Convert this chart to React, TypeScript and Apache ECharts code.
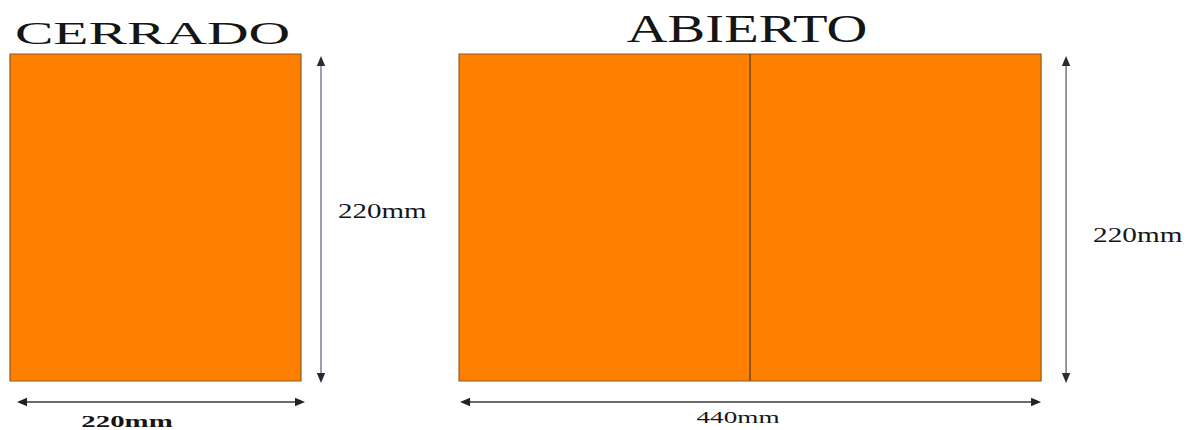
import React, { useEffect, useRef } from "react";
import * as echarts from "echarts";

// ---- data ----
const panelNames = ["CERRADO", "ABIERTO"];
const panelWidthMm = [220, 440];
const panelHeightMm = [220, 220];
const panelSections = [1, 2];
const widthLabels = ["220mm", "440mm"];
const heightLabels = ["220mm", "220mm"];

// ---- layout (mm along the hidden axes) ----
const panelStartMm = [0, 339.5];
const X_MAX_MM = 890;
const Y_MAX_MM = 220;
const PX_PER_MM_X = 291 / 220;
const PLOT_HEIGHT_PX = 327;

// ---- styles per panel ----
const titleSize = [32, 39];
const titleScaleX = [1.8, 1.45];
const titleCenterY = [33, 29];
const heightLabelSize = [20, 22];
const heightLabelScaleX = [1.45, 1.33];
const heightLabelOffsetX = [17, 27];
const heightLabelDy = [-6, 17];
const vArrowOffsetX = [20, 25];
const vArrowColor = ["#6f6684", "#5e5e5e"];
const hArrowInset = [[7, 4], [1, 0]];
const widthLabelSize = [17, 17];
const widthLabelBold = [true, false];
const widthLabelScaleX = [1.7, 1.6];
const widthLabelCenterX = [127, 738];
const widthLabelCenterY = [421, 417];

const FILL = "#FF8000";
const EDGE = "#8a5a22";
const INK = "#151515";

function arrowHead(x: number, y: number, dir: string, color: string) {
  const L = 10;
  const W = 4.2;
  let pts: number[][] = [];
  if (dir === "up") pts = [[x, y], [x - W, y + L], [x + W, y + L]];
  if (dir === "down") pts = [[x, y], [x - W, y - L], [x + W, y - L]];
  if (dir === "left") pts = [[x, y], [x + L, y - W], [x + L, y + W]];
  if (dir === "right") pts = [[x, y], [x - L, y - W], [x - L, y + W]];
  return { type: "polygon", shape: { points: pts }, style: { fill: color } };
}

export default function App() {
  const ref = useRef<HTMLDivElement>(null);
  useEffect(() => {
    if (!ref.current) return;
    const chart = echarts.init(ref.current, undefined, { renderer: "svg" });
    const data = panelNames.map((_, i) => [
      i,
      panelStartMm[i],
      panelWidthMm[i],
      panelHeightMm[i],
      panelSections[i],
    ]);
    const renderItem = (params: any, api: any) => {
      const i = api.value(0);
      const x0 = api.value(1);
      const w = api.value(2);
      const h = api.value(3);
      const sections = api.value(4);
      const [left, bottom] = api.coord([x0, 0]);
      const [right, top] = api.coord([x0 + w, h]);
      const children: any[] = [];
      children.push({
        type: "rect",
        shape: { x: left, y: top, width: right - left, height: bottom - top },
        style: { fill: FILL, stroke: EDGE, lineWidth: 1.2 },
      });
      for (let k = 1; k < sections; k++) {
        const xd = left + ((right - left) * k) / sections;
        children.push({
          type: "line",
          shape: { x1: xd, y1: top, x2: xd, y2: bottom },
          style: { stroke: "#7a4812", lineWidth: 1.6 },
        });
      }
      // title
      children.push({
        type: "text",
        x: (left + right) / 2 - 3,
        y: titleCenterY[i],
        scaleX: titleScaleX[i],
        style: {
          text: panelNames[i],
          fontFamily: "Liberation Serif",
          fontSize: titleSize[i],
          fill: INK,
          align: "center",
          verticalAlign: "middle",
        },
      });
      // vertical arrow
      const vx = right + vArrowOffsetX[i];
      const vy1 = top + 2;
      const vy2 = bottom + 2;
      const vc = vArrowColor[i];
      children.push({
        type: "line",
        shape: { x1: vx, y1: vy1 + 8, x2: vx, y2: vy2 - 8 },
        style: { stroke: vc, lineWidth: 1.3 },
      });
      children.push(arrowHead(vx, vy1, "up", "#2a2a33"));
      children.push(arrowHead(vx, vy2, "down", "#2a2a33"));
      children.push({
        type: "text",
        x: vx + heightLabelOffsetX[i],
        y: (top + bottom) / 2 + heightLabelDy[i],
        scaleX: heightLabelScaleX[i],
        style: {
          text: heightLabels[i],
          fontFamily: "Liberation Serif",
          fontSize: heightLabelSize[i],
          fill: INK,
          align: "left",
          verticalAlign: "middle",
        },
      });
      // horizontal arrow
      const hy = bottom + 21;
      const hx1 = left + hArrowInset[i][0];
      const hx2 = right + hArrowInset[i][1];
      children.push({
        type: "line",
        shape: { x1: hx1 + 8, y1: hy, x2: hx2 - 8, y2: hy },
        style: { stroke: "#3a3a3a", lineWidth: 1.6 },
      });
      children.push(arrowHead(hx1, hy, "left", "#222"));
      children.push(arrowHead(hx2, hy, "right", "#222"));
      children.push({
        type: "text",
        x: widthLabelCenterX[i],
        y: widthLabelCenterY[i],
        scaleX: widthLabelScaleX[i],
        style: {
          text: widthLabels[i],
          fontFamily: "Liberation Serif",
          fontSize: widthLabelSize[i],
          fontWeight: widthLabelBold[i] ? "bold" : "normal",
          fill: INK,
          align: "center",
          verticalAlign: "middle",
        },
      });
      return { type: "group", children };
    };
    chart.setOption({
      animation: false,
      backgroundColor: "#ffffff",
      grid: {
        left: 10,
        top: 54,
        width: X_MAX_MM * PX_PER_MM_X,
        height: PLOT_HEIGHT_PX,
      },
      xAxis: { type: "value", min: 0, max: X_MAX_MM, show: false },
      yAxis: { type: "value", min: 0, max: Y_MAX_MM, show: false },
      series: [
        {
          type: "custom",
          renderItem,
          data,
          clip: false,
          silent: true,
        },
      ],
    });
    return () => chart.dispose();
  }, []);
  return (
    <div
      ref={ref}
      style={{ position: "absolute", left: 0, top: 0, width: 1188, height: 430, background: "#fff" }}
    />
  );
}
